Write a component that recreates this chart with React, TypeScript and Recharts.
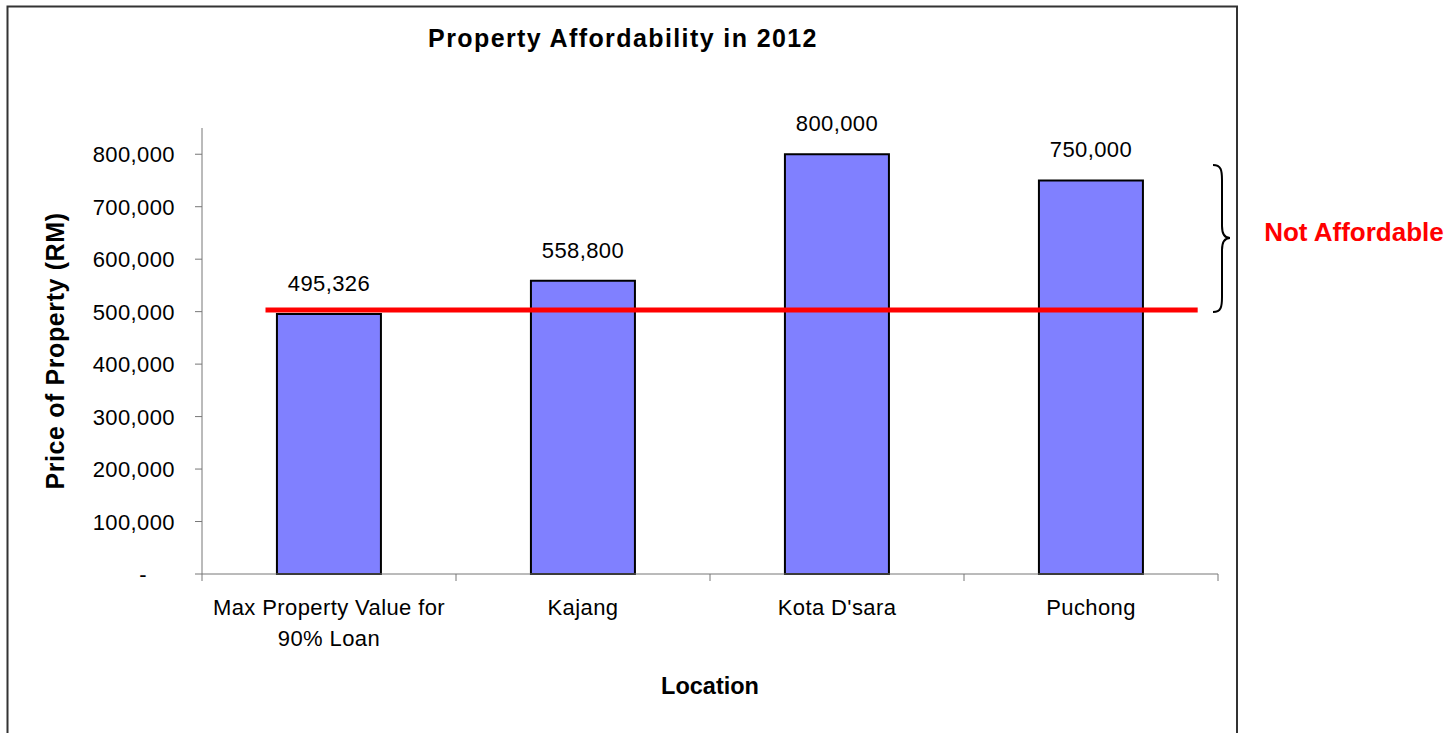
import React from 'react';
import { BarChart, Bar, XAxis, YAxis, LabelList, Label, ReferenceLine } from 'recharts';

const FONT = '"Liberation Sans", Arial, sans-serif';

// chart data
const categories = ['Max Property Value for\n90% Loan', 'Kajang', "Kota D'sara", 'Puchong'];
const prices = [495326, 558800, 800000, 750000];
const yTicks = [0, 100000, 200000, 300000, 400000, 500000, 600000, 700000, 800000];
const yMax = 850000;

// affordability threshold line, extent given in category units (0 = left edge, 4 = right edge)
const threshold = 503000;
const thresholdFrom = 0.25;
const thresholdTo = 3.92;

const data = categories.map((name, i) => ({ name, price: prices[i] }));

const TICK_SIZE = 7;
const TICK_MARGIN = 18;
const AXIS_COLOR = '#777';

const fmt = (v: number) => v.toLocaleString('en-US');

const YTick = (props: any) => {
  const { x, y, payload } = props;
  const isZero = payload.value === 0;
  return (
    <text x={x} y={y} dx={isZero ? -28 : 0} dy={8} textAnchor="end" fontSize={22} letterSpacing={0.4} fill="#000">
      {isZero ? '-' : fmt(payload.value)}
    </text>
  );
};

const XTick = (props: any) => {
  const { x, y, payload } = props;
  const half = payload.offset;
  const axisY = y - TICK_SIZE - TICK_MARGIN;
  const last = payload.index === categories.length - 1;
  const lines = String(payload.value).split('\n');
  return (
    <g>
      <line x1={x - half} x2={x - half} y1={axisY} y2={axisY + TICK_SIZE} stroke={AXIS_COLOR} />
      {last && <line x1={x + half} x2={x + half} y1={axisY} y2={axisY + TICK_SIZE} stroke={AXIS_COLOR} />}
      <text x={x} y={y + 16} textAnchor="middle" fontSize={22} letterSpacing={0.4} fill="#000">
        {lines.map((l, i) => (
          <tspan key={i} x={x} dy={i === 0 ? 0 : 31}>
            {l}
          </tspan>
        ))}
      </text>
    </g>
  );
};

const ThresholdShape = (p: any) => {
  const unit = (p.x2 - p.x1) / categories.length;
  return (
    <line
      x1={p.x1 + unit * thresholdFrom}
      x2={p.x1 + unit * thresholdTo}
      y1={p.y1}
      y2={p.y2}
      stroke="#FF0000"
      strokeWidth={5}
    />
  );
};

export default function App() {
  return (
    <div style={{ position: 'absolute', left: 0, top: 0, width: 1454, height: 733, fontFamily: FONT, background: '#fff', overflow: 'hidden' }}>
      <BarChart
        width={1454}
        height={733}
        data={data}
        margin={{ top: 128, right: 236, bottom: 0, left: 0 }}
        barCategoryGap="29.5%"
      >
        <XAxis
          dataKey="name"
          height={159}
          interval={0}
          tickLine={false}
          tickSize={TICK_SIZE}
          tickMargin={TICK_MARGIN}
          axisLine={{ stroke: AXIS_COLOR }}
          tick={<XTick />}
        >
          <Label value="Location" position="insideBottom" offset={39} fontSize={23.5} fontWeight="bold" fill="#000" />
        </XAxis>
        <YAxis
          width={202}
          domain={[0, yMax]}
          ticks={yTicks}
          interval={0}
          tickSize={TICK_SIZE}
          tickMargin={20}
          axisLine={{ stroke: AXIS_COLOR }}
          tickLine={{ stroke: AXIS_COLOR }}
          tick={<YTick />}
        >
          <Label
            value="Price of Property (RM)"
            angle={-90}
            position="insideLeft"
            offset={55}
            fontSize={25}
            fontWeight="bold"
            letterSpacing={0.6}
            fill="#000"
            style={{ textAnchor: 'middle' }}
          />
        </YAxis>
        <Bar dataKey="price" fill="#8080FF" stroke="#000" strokeWidth={2} isAnimationActive={false}>
          <LabelList dataKey="price" position="top" offset={23} fontSize={22} letterSpacing={0.4} fill="#000" formatter={(v: any) => fmt(Number(v))} />
        </Bar>
        <ReferenceLine y={threshold} shape={ThresholdShape} />
      </BarChart>
      <svg width={1454} height={733} style={{ position: 'absolute', left: 0, top: 0, pointerEvents: 'none' }}>
        <rect x={7.5} y={6.5} width={1229.5} height={800} fill="none" stroke="#333" strokeWidth={2} />
        <text x={623} y={47} textAnchor="middle" fontSize={25} fontWeight="bold" letterSpacing={1.4} fill="#000">
          Property Affordability in 2012
        </text>
        <path
          d="M1213,165 C1221,165 1222,170 1222,180 L1222,226 C1222,234 1225,238 1230,238 C1225,238 1222,242 1222,250 L1222,297 C1222,307 1221,312 1213,312"
          fill="none"
          stroke="#000"
          strokeWidth={2}
        />
        <text x={1354} y={241} textAnchor="middle" fontSize={26} fontWeight="bold" fill="#FF0000">
          Not Affordable
        </text>
      </svg>
    </div>
  );
}
